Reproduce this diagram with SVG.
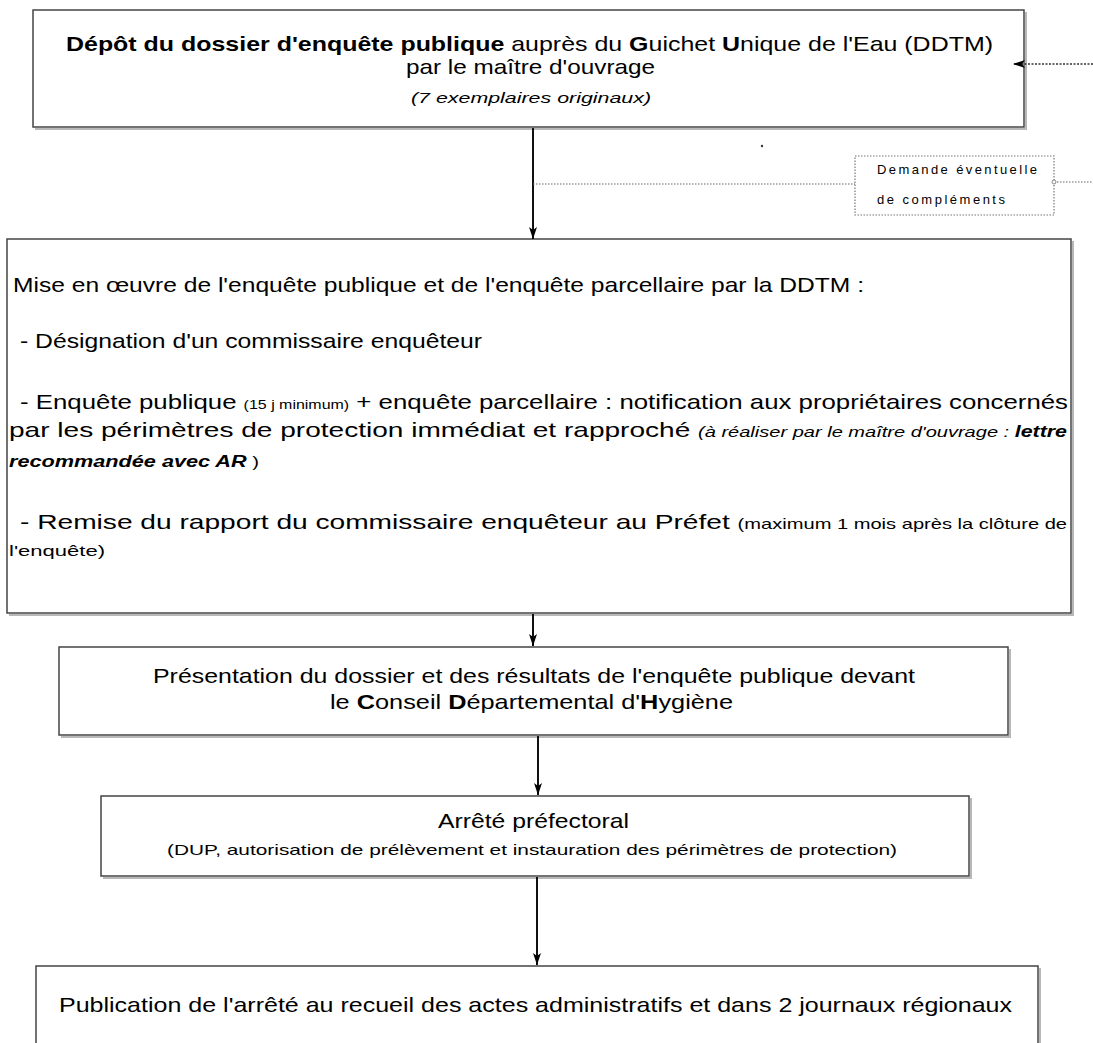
<svg xmlns="http://www.w3.org/2000/svg" width="1093" height="1043" viewBox="0 0 1093 1043">
<style>
text{font-family:"Liberation Sans",Arial,sans-serif;fill:#000}
.box{fill:#fff;stroke:#444;stroke-width:1.5}
.sh{fill:none;stroke:#b8b8b8;stroke-width:2}
.t{font-size:21px}
.s{font-size:15px}
.xs{font-size:13px}
.b{font-weight:bold}
.i{font-style:italic}
.con{stroke:#111;stroke-width:2;fill:none}
.dot{stroke:#666;stroke-width:1.2;stroke-dasharray:1.5 1.5;fill:none}
</style>
<defs>
<marker id="arr" viewBox="0 0 12 8" refX="12" refY="4" markerWidth="12" markerHeight="8" markerUnits="userSpaceOnUse" orient="auto">
<path d="M0,0 L12,4 L0,8 L3,4 z" fill="#000"/>
</marker>
</defs>
<rect width="1093" height="1043" fill="#fff"/>

<g id="n1">
<polyline class="sh" points="35,129 1026,129 1026,12"/>
<rect class="box" x="33" y="10" width="991" height="117"/>
<text class="t" x="66" y="51" textLength="927" lengthAdjust="spacingAndGlyphs"><tspan class="b">Dépôt du dossier d'enquête publique</tspan> auprès du <tspan class="b">G</tspan>uichet <tspan class="b">U</tspan>nique de l'Eau (DDTM)</text>
<text class="t" x="406" y="74" textLength="249" lengthAdjust="spacingAndGlyphs">par le maître d'ouvrage</text>
<text class="s i" x="411" y="103" textLength="240" lengthAdjust="spacingAndGlyphs">(7 exemplaires originaux)</text>
</g>

<g id="n-demande">
<rect x="855" y="156" width="199" height="59" fill="#fff" stroke="#777" stroke-width="1.2" stroke-dasharray="1.5 1.5"/>
<text class="xs" x="877" y="174" textLength="160" lengthAdjust="spacing">Demande éventuelle</text>
<text class="xs" x="877" y="204" textLength="128" lengthAdjust="spacing">de compléments</text>
</g>

<g id="n2">
<polyline class="sh" points="9,615 1073,615 1073,241"/>
<rect class="box" x="7" y="239" width="1064" height="374"/>
<text class="t" x="13" y="292" textLength="851" lengthAdjust="spacingAndGlyphs">Mise en œuvre de l'enquête publique et de l'enquête parcellaire par la DDTM :</text>
<text class="t" x="20" y="348" textLength="462" lengthAdjust="spacingAndGlyphs"> - Désignation d'un commissaire enquêteur</text>
<text class="t" x="20" y="409" textLength="1048" lengthAdjust="spacingAndGlyphs"> - Enquête publique <tspan class="xs">(15 j minimum)</tspan> + enquête parcellaire  : notification aux propriétaires concernés</text>
<text class="t" x="9" y="437" textLength="1058" lengthAdjust="spacingAndGlyphs">par les périmètres de protection immédiat et rapproché <tspan class="s i">(à réaliser par le maître d'ouvrage : </tspan><tspan class="i b" font-size="16">lettre</tspan></text>
<text class="s" x="9" y="467" textLength="250" lengthAdjust="spacingAndGlyphs"><tspan class="b i" font-size="16">recommandée avec AR</tspan> )</text>
<text class="t" x="20" y="529" textLength="1047" lengthAdjust="spacingAndGlyphs"> - Remise du rapport du commissaire enquêteur au Préfet <tspan class="s">(maximum 1 mois après la clôture de</tspan></text>
<text class="s" x="9" y="556" textLength="96" lengthAdjust="spacingAndGlyphs">l'enquête)</text>
</g>

<g id="n3">
<polyline class="sh" points="61,737 1010,737 1010,649"/>
<rect class="box" x="59" y="647" width="949" height="88"/>
<text class="t" x="153" y="683" textLength="762" lengthAdjust="spacingAndGlyphs">Présentation du dossier et des résultats de l'enquête publique devant</text>
<text class="t" x="330" y="709" textLength="403" lengthAdjust="spacingAndGlyphs">le <tspan class="b">C</tspan>onseil <tspan class="b">D</tspan>épartemental d'<tspan class="b">H</tspan>ygiène</text>
</g>

<g id="n4">
<polyline class="sh" points="103,878 971,878 971,798"/>
<rect class="box" x="101" y="796" width="868" height="80"/>
<text class="t" x="438" y="828" textLength="191" lengthAdjust="spacingAndGlyphs">Arrêté préfectoral</text>
<text class="s" x="167" y="855" textLength="730" lengthAdjust="spacingAndGlyphs">(DUP, autorisation de prélèvement et instauration des périmètres de protection)</text>
</g>

<g id="n5">
<polyline class="sh" points="1040,968 1040,1043"/>
<rect class="box" x="36" y="966" width="1002" height="90"/>
<text class="t" x="59" y="1012" textLength="953" lengthAdjust="spacingAndGlyphs">Publication de l'arrêté au recueil des actes administratifs et dans 2 journaux régionaux</text>
</g>

<g id="connectors">
<line class="con" x1="533" y1="128" x2="533" y2="239" marker-end="url(#arr)"/>
<line class="con" x1="533" y1="614" x2="533" y2="646" marker-end="url(#arr)"/>
<line class="con" x1="538" y1="736" x2="538" y2="795" marker-end="url(#arr)"/>
<line class="con" x1="537" y1="877" x2="537" y2="965" marker-end="url(#arr)"/>
<line x1="1093" y1="64" x2="1013" y2="64" stroke="#333" stroke-width="1.3" stroke-dasharray="2 1.5" marker-end="url(#arr)"/>
<line class="dot" x1="533" y1="184" x2="855" y2="184"/>
<line class="dot" x1="1054" y1="182" x2="1093" y2="182"/>
<circle cx="1054" cy="182" r="2" fill="#fff" stroke="#888" stroke-width="1"/>
<circle cx="762" cy="146" r="1.2" fill="#334"/>
</g>
</svg>
